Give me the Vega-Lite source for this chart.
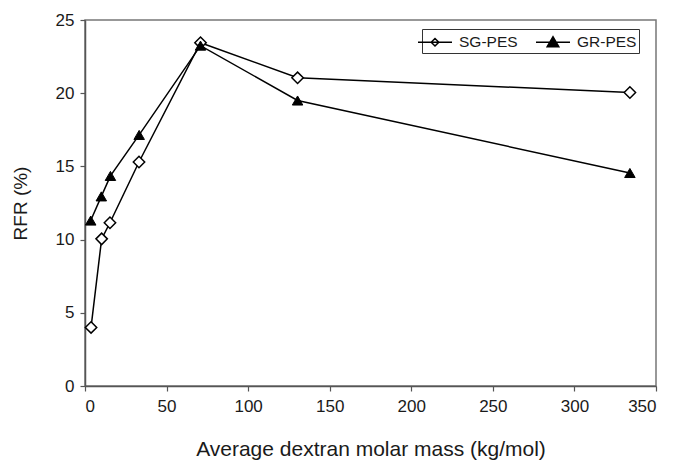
{
  "$schema": "https://vega.github.io/schema/vega-lite/v6.json",
  "width": 571,
  "height": 366,
  "autosize": {"type": "none"},
  "padding": {"left": 85, "top": 20, "right": 17, "bottom": 74},
  "background": "white",
  "config": {
    "font": "Liberation Sans",
    "view": {"stroke": "#777", "strokeWidth": 1.5},
    "axis": {"grid": false, "domainColor": "#555", "tickColor": "#555", "domainWidth": 1.5, "tickWidth": 1.2, "tickSize": 5, "labelFontSize": 17, "titleFontSize": 20, "labelColor": "#1a1a1a", "titleColor": "#1a1a1a", "titleFontWeight": "normal"}
  },
  "data": {
    "values": [
      {"m": 3.7, "rfr": 4.0, "s": "SG-PES"},
      {"m": 10.2, "rfr": 10.05, "s": "SG-PES"},
      {"m": 15.3, "rfr": 11.15, "s": "SG-PES"},
      {"m": 33.1, "rfr": 15.3, "s": "SG-PES"},
      {"m": 70.8, "rfr": 23.45, "s": "SG-PES"},
      {"m": 130.3, "rfr": 21.05, "s": "SG-PES"},
      {"m": 334, "rfr": 20.05, "s": "SG-PES"},
      {"m": 3.5, "rfr": 11.3, "s": "GR-PES"},
      {"m": 10, "rfr": 12.95, "s": "GR-PES"},
      {"m": 15.6, "rfr": 14.35, "s": "GR-PES"},
      {"m": 33.2, "rfr": 17.15, "s": "GR-PES"},
      {"m": 70.8, "rfr": 23.25, "s": "GR-PES"},
      {"m": 130.3, "rfr": 19.5, "s": "GR-PES"},
      {"m": 334, "rfr": 14.55, "s": "GR-PES"}
    ]
  },
  "encoding": {
    "x": {"field": "m", "type": "quantitative", "scale": {"domain": [0, 350], "nice": false}, "axis": {"values": [0, 50, 100, 150, 200, 250, 300, 350], "title": "Average dextran molar mass (kg/mol)", "labelPadding": 7, "titlePadding": 24, "titleFontSize": 21}},
    "y": {"field": "rfr", "type": "quantitative", "scale": {"domain": [0, 25], "nice": false}, "axis": {"values": [0, 5, 10, 15, 20, 25], "title": "RFR (%)", "labelPadding": 6, "titlePadding": 25, "titleFontSize": 19}}
  },
  "layer": [
    {
      "mark": {"type": "line", "color": "black", "strokeWidth": 1.5},
      "encoding": {"detail": {"field": "s"}}
    },
    {
      "transform": [{"filter": "datum.s === 'SG-PES'"}],
      "mark": {"type": "point", "shape": "diamond", "filled": true, "fill": "white", "stroke": "black", "strokeWidth": 1.5, "opacity": 1, "size": 130}
    },
    {
      "transform": [{"filter": "datum.s === 'GR-PES'"}],
      "mark": {"type": "point", "shape": "triangle-up", "filled": true, "fill": "black", "stroke": "black", "strokeWidth": 1, "opacity": 1, "size": 110}
    },
    {
      "transform": [{"filter": "datum.m < 0"}],
      "mark": {"type": "point", "filled": true, "strokeWidth": 1.5, "opacity": 1},
      "encoding": {
        "shape": {"field": "s", "type": "nominal", "scale": {"domain": ["SG-PES", "GR-PES"], "range": ["M-1.7,0L1.7,0M-0.38,0L0,-0.38L0.38,0L0,0.38Z", "M-1.7,0L1.7,0M-0.58,0.45L0,-0.55L0.58,0.45Z"]},
          "legend": {"title": null, "orient": "none", "legendX": 337, "legendY": 9, "direction": "horizontal", "strokeColor": "#333", "padding": 2, "labelFontSize": 15.5, "labelColor": "#1a1a1a", "labelOffset": 13, "symbolSize": 400, "columnPadding": 15, "symbolStrokeWidth": 1.5, "symbolOpacity": 1}},
        "fill": {"field": "s", "type": "nominal", "scale": {"domain": ["SG-PES", "GR-PES"], "range": ["white", "black"]}},
        "stroke": {"field": "s", "type": "nominal", "scale": {"domain": ["SG-PES", "GR-PES"], "range": ["black", "black"]}}
      }
    }
  ]
}
